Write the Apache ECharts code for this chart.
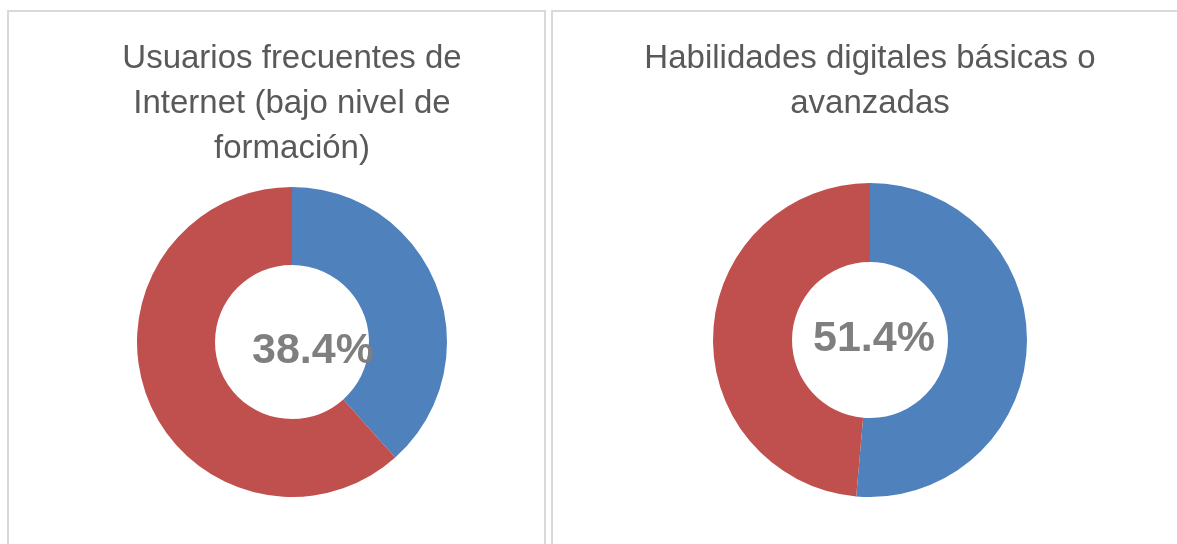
<!DOCTYPE html>
<html>
<head>
<meta charset="utf-8">
<script src="https://cdn.jsdelivr.net/npm/echarts@6/dist/echarts.min.js"></script>
<style>
html,body{margin:0;padding:0;background:#fff;}
#chart{width:1177px;height:544px;}
</style>
</head>
<body>
<div id="chart"></div>
<script>
// Data
var titles = ['Usuarios frecuentes de\nInternet (bajo nivel de\nformación)', 'Habilidades digitales básicas o\navanzadas'];
var categories = ['Sí', 'No'];
var valuesInternet = [38.4, 61.6];
var valuesSkills = [51.4, 48.6];
var centerLabels = ['38.4%', '51.4%'];

var colors = ['#4F81BD', '#C0504D'];
var titleFont = '33px "Liberation Sans", Arial, sans-serif';
var labelFont = 'bold 43px "Liberation Sans", Arial, sans-serif';

function toData(vals) {
  return vals.map(function (v, i) { return { name: categories[i], value: v }; });
}

var chart = echarts.init(document.getElementById('chart'));
chart.setOption({
  animation: false,
  color: colors,
  graphic: [
    { type: 'rect', shape: { x: 8, y: 11, width: 537, height: 560 }, style: { fill: 'none', stroke: '#d9d9d9', lineWidth: 2 } },
    { type: 'rect', shape: { x: 552, y: 11, width: 660, height: 560 }, style: { fill: 'none', stroke: '#d9d9d9', lineWidth: 2 } },
    { type: 'text', x: 292, y: 36, style: { text: titles[0], font: titleFont, fill: '#595959', align: 'center', verticalAlign: 'top', lineHeight: 45 } },
    { type: 'text', x: 870, y: 36, style: { text: titles[1], font: titleFont, fill: '#595959', align: 'center', verticalAlign: 'top', lineHeight: 45 } },
    { type: 'text', x: 313, y: 351, z: 10, style: { text: centerLabels[0], font: labelFont, fill: '#7F7F7F', align: 'center', verticalAlign: 'middle' } },
    { type: 'text', x: 874, y: 339, z: 10, style: { text: centerLabels[1], font: labelFont, fill: '#7F7F7F', align: 'center', verticalAlign: 'middle' } }
  ],
  series: [
    {
      type: 'pie', center: [292, 342], radius: [77, 155], startAngle: 90, clockwise: true,
      label: { show: false }, labelLine: { show: false }, emphasis: { disabled: true },
      data: toData(valuesInternet)
    },
    {
      type: 'pie', center: [870, 340], radius: [78, 157], startAngle: 90, clockwise: true,
      label: { show: false }, labelLine: { show: false }, emphasis: { disabled: true },
      data: toData(valuesSkills)
    }
  ]
});
</script>
</body>
</html>
